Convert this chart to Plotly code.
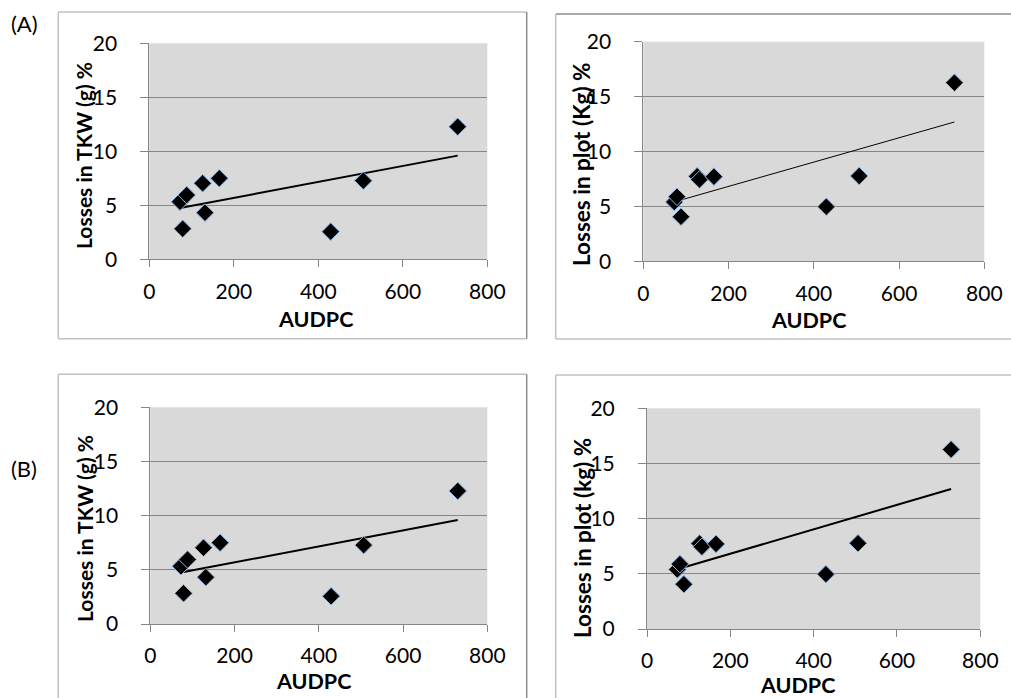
import numpy as np
import plotly.graph_objects as go

W, H = 1011, 698

# ---- data ----
audpc = [72.7, 79.0, 88.5, 126.3, 131.8, 165.7, 429.3, 506.5, 729.9]
loss_tkw = [5.33, 2.83, 5.95, 7.04, 4.32, 7.50, 2.56, 7.28, 12.28]
loss_plot = [5.40, 5.88, 4.06, 7.75, 7.45, 7.71, 4.97, 7.77, 16.27]
x_ticks = [0, 200, 400, 600, 800]
y_ticks = [0, 5, 10, 15, 20]

FONT = "Lato"
GRID = "#868686"

def px_x(p):
    return min(max(p / W, 0), 1)

def px_y(p):
    return min(max(1 - p / H, 0), 1)

panels = [
    dict(box=(149.3, 487.3, 43.3, 259.3), y=loss_tkw, ytitle="Losses in TKW (g) %", lw=2,
         xt=(315, 319.5), yt=(83, 156), yfs=21),
    dict(box=(643.3, 984.3, 41.7, 261.3), y=loss_plot, ytitle="Losses in plot (Kg) %", lw=1,
         xt=(808, 320), yt=(582, 164), yfs=22.5),
    dict(box=(150.3, 487.3, 407.3, 624.0), y=loss_tkw, ytitle="Losses in TKW (g) %", lw=2,
         xt=(313, 681), yt=(84, 529), yfs=21),
    dict(box=(647.0, 980.3, 408.3, 629.0), y=loss_plot, ytitle="Losses in plot (kg) %", lw=2,
         xt=(797, 685), yt=(582, 538), yfs=22.5),
]

fig = go.Figure()
layout = dict(
    width=W, height=H, autosize=False, margin=dict(l=0, r=0, t=0, b=0, pad=0),
    paper_bgcolor="white", plot_bgcolor="#D9D9D9", showlegend=False,
    font=dict(family=FONT, size=21, color="black"),
)
annotations = []
shapes = []

for i, p in enumerate(panels, start=1):
    sfx = "" if i == 1 else str(i)
    x0, x1, y0, y1 = p["box"]
    xa = dict(domain=[px_x(x0), px_x(x1)], range=[0, 800], tickvals=x_ticks,
              showgrid=False, zeroline=False, showline=True, linecolor=GRID, linewidth=1,
              ticks="outside", ticklen=7, tickcolor=GRID, ticklabelstandoff=6,
              automargin=False, anchor="y" + sfx, tickfont=dict(size=21, family=FONT))
    ya = dict(domain=[px_y(y1), px_y(y0)], range=[0, 20], tickvals=y_ticks,
              showgrid=True, gridcolor=GRID, gridwidth=1, zeroline=False,
              showline=True, linecolor=GRID, linewidth=1,
              ticks="outside", ticklen=8, tickcolor=GRID, ticklabelstandoff=19,
              automargin=False, anchor="x" + sfx, tickfont=dict(size=21, family=FONT))
    layout["xaxis" + sfx] = xa
    layout["yaxis" + sfx] = ya

    xs = np.array(audpc)
    ys = np.array(p["y"])
    slope, icpt = np.polyfit(xs, ys, 1)
    tx = np.array([xs.min(), xs.max()])
    fig.add_trace(go.Scatter(x=tx, y=slope * tx + icpt, mode="lines",
                             line=dict(color="black", width=p["lw"]),
                             xaxis="x" + sfx, yaxis="y" + sfx, hoverinfo="skip"))
    fig.add_trace(go.Scatter(x=audpc, y=p["y"], mode="markers",
                             marker=dict(symbol="diamond", size=13.5, color="black",
                                         line=dict(color="#8DB4E2", width=1)),
                             xaxis="x" + sfx, yaxis="y" + sfx))

    annotations.append(dict(text="<b>AUDPC</b>", x=px_x(p["xt"][0]), y=px_y(p["xt"][1]),
                            xref="paper", yref="paper", showarrow=False,
                            xanchor="center", yanchor="middle",
                            font=dict(size=21.5, family=FONT)))
    annotations.append(dict(text="<b>" + p["ytitle"] + "</b>", x=px_x(p["yt"][0]), y=px_y(p["yt"][1]),
                            xref="paper", yref="paper", showarrow=False, textangle=-90,
                            xanchor="center", yanchor="middle",
                            font=dict(size=p["yfs"], family=FONT)))

annotations.append(dict(text="(A)", x=px_x(24), y=px_y(23), xref="paper", yref="paper",
                        showarrow=False, xanchor="center", yanchor="middle",
                        font=dict(size=22, family=FONT)))
annotations.append(dict(text="(B)", x=px_x(24), y=px_y(468), xref="paper", yref="paper",
                        showarrow=False, xanchor="center", yanchor="middle",
                        font=dict(size=22, family=FONT)))

LIGHT = "#C0C0C0"
DARK = "#8C8C8C"

def seg(x0, y0, x1, y1, color):
    shapes.append(dict(type="line", xref="paper", yref="paper", layer="below",
                       x0=px_x(x0), x1=px_x(x1), y0=px_y(y0), y1=px_y(y1),
                       line=dict(color=color, width=1.5)))

def box(x0, y0, x1, y1, right=True, bottom=True, top_color=LIGHT, right_color=DARK):
    seg(x0, y0, x1, y0, top_color)
    seg(x0, y0, x0, y1, LIGHT)
    if bottom:
        seg(x0, y1, x1, y1, LIGHT)
    if right:
        seg(x1, y0, x1, y1, right_color)

box(58.3, 12, 526.7, 338.7)
box(555.7, 14, 1011, 339, right=False, top_color=DARK)
box(58.3, 374.3, 526.7, 698, bottom=False)
box(555.7, 375, 1011, 698, right=False, bottom=False)

layout["annotations"] = annotations
layout["shapes"] = shapes
fig.update_layout(**layout)
fig.write_html(
    "out.html",
    config={"displayModeBar": False},
    post_script="document.body.style.margin='0';document.body.style.overflow='hidden';",
)
